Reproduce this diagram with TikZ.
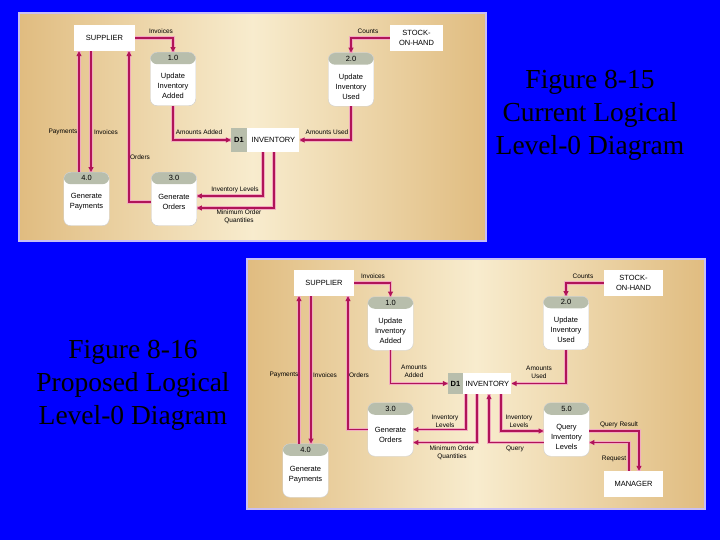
\documentclass[tikz,border=0pt]{standalone}
\usepackage{fontspec}
\setmainfont{Liberation Serif}
\newfontfamily\lsans{Liberation Sans}
\usetikzlibrary{arrows.meta,calc}
\definecolor{bgblue}{RGB}{0,0,255}
\definecolor{lav}{RGB}{200,190,245}
\definecolor{tanE}{RGB}{224,188,128}
\definecolor{cream}{RGB}{248,236,206}
\definecolor{hdr}{RGB}{184,190,172}
\definecolor{lc}{RGB}{176,20,88}
\definecolor{glow}{RGB}{242,170,192}
\newcommand\dfdproc[5]{%
  \node[proc] (#1) at (#2) {};
  \node[pnum] (#1n) at ([yshift=-6pt]#1.north) {#3};
  \node[ptxt] (#1t) at ([yshift=#5]#1.center) {#4};}
\begin{document}
\begin{tikzpicture}[x=1pt,y=-1pt,
  panel/.style={draw=lav, line width=2pt, left color=tanE, right color=tanE, middle color=cream, shading angle=90},
  ent/.style={fill=white, minimum height=26pt, inner sep=0pt, align=center, font=\lsans\fontsize{7.5}{10}\selectfont},
  proc/.style={draw=black!20, fill=white, rounded corners=7pt, minimum width=45.5pt, minimum height=53.5pt, inner sep=0pt,
    path picture={\fill[hdr] (path picture bounding box.north west) rectangle ([yshift=-12pt]path picture bounding box.north east);}},
  pnum/.style={inner sep=0pt, font=\lsans\fontsize{7.5}{9}\selectfont},
  ptxt/.style={inner sep=0pt, align=center, font=\lsans\fontsize{7.5}{10}\selectfont},
  dg/.style={fill=hdr, inner sep=0pt, font=\lsans\bfseries\fontsize{7.5}{9}\selectfont},
  dw/.style={fill=white, inner sep=0pt, font=\lsans\fontsize{7.5}{9}\selectfont},
  lbl/.style={inner sep=0pt, align=center, font=\lsans\fontsize{6.5}{8}\selectfont},
  flow/.style={draw=lc, line width=1.4pt, -{Triangle[length=5pt,width=5pt]},
    preaction={draw=glow, line width=3.6pt, -}},
  title/.style={align=center, font=\fontsize{27.5}{33}\selectfont}]
\fill[bgblue] (0,0) rectangle (720,540);
\path[use as bounding box] (0,0) rectangle (720,540);
% panels
\shade[panel] (19,13) rectangle (486,241);
\draw[lav, line width=2pt] (19,13) rectangle (486,241);
\shade[panel] (247,259) rectangle (705,509);
\draw[lav, line width=2pt] (247,259) rectangle (705,509);
% titles
\node[title] (t1) at (590,115) {Figure 8-15\\Current Logical\\Level-0 Diagram};
\node[title] (t2) at (133,385) {Figure 8-16\\Proposed Logical\\Level-0 Diagram};
% ---------- top diagram ----------
\node[ent, minimum width=61pt] (sup1) at (104.5,38) {SUPPLIER};
\node[ent, minimum width=53pt] (soh1) at (416.5,38) {STOCK-\\ON-HAND};
\dfdproc{p1}{173,79}{1.0}{Update\\Inventory\\Added}{-7pt}
\dfdproc{p2}{351,79.5}{2.0}{Update\\Inventory\\Used}{-7pt}
\dfdproc{p4}{86.5,199}{4.0}{Generate\\Payments}{-3pt}
\dfdproc{p3}{174,199}{3.0}{Generate\\Orders}{-3pt}
\node[dg, minimum width=16pt, minimum height=24pt] (d1g) at (239,140) {D1};
\node[dw, minimum width=52pt, minimum height=24pt, anchor=west] (d1w) at (d1g.east) {INVENTORY};
\coordinate (xa) at (79,0);
\coordinate (xb) at (91,0);
\coordinate (xc) at (129,0);
\coordinate (xd) at (263,0);
\coordinate (xe) at (274,0);
\draw[flow] (sup1.east) -| (p1.north);
\draw[flow] (soh1.west) -| (p2.north);
\draw[flow] (p1.south) |- (d1g.west);
\draw[flow] (p2.south) |- (d1w.east);
\draw[flow] (xa |- p4.north) -- (xa |- sup1.south);
\draw[flow] (xb |- sup1.south) -- (xb |- p4.north);
\draw[flow] ([yshift=-3pt]p3.west) -| (xc |- sup1.south);
\draw[flow] (xd |- d1w.south) |- ([yshift=3pt]p3.east);
\draw[flow] (xe |- d1w.south) |- ([yshift=-9pt]p3.east);
\node[lbl] (a1) at (161,31) {Invoices};
\node[lbl] (a2) at (368,31) {Counts};
\node[lbl] (a3) at (199,132) {Amounts Added};
\node[lbl] (a4) at (327,132) {Amounts Used};
\node[lbl] (a5) at (63,132) {Payments};
\node[lbl] (a6) at (106,132) {Invoices};
\node[lbl] (a7) at (140,157) {Orders};
\node[lbl] (a8) at (235,190) {Inventory Levels};
\node[lbl] (a9) at (239,217) {Minimum Order\\Quantities};
% ---------- bottom diagram ----------
\node[ent, minimum width=60pt] (sup2) at (324,283) {SUPPLIER};
\node[ent, minimum width=59pt] (soh2) at (633.5,283) {STOCK-\\ON-HAND};
\node[ent, minimum width=59pt] (mgr) at (633.5,484) {MANAGER};
\dfdproc{q1}{390.5,323.5}{1.0}{Update\\Inventory\\Added}{-7pt}
\dfdproc{q2}{566,323}{2.0}{Update\\Inventory\\Used}{-7pt}
\dfdproc{q3}{390.5,429.5}{3.0}{Generate\\Orders}{-5pt}
\dfdproc{q4}{305.5,470.5}{4.0}{Generate\\Payments}{-4pt}
\dfdproc{q5}{566.5,429.5}{5.0}{Query\\Inventory\\Levels}{-7.5pt}
\node[dg, minimum width=15pt, minimum height=21pt] (e1g) at (455.5,383.5) {D1};
\node[dw, minimum width=48pt, minimum height=21pt, anchor=west] (e1w) at (e1g.east) {INVENTORY};
\coordinate (xf) at (299,0);
\coordinate (xg) at (311,0);
\coordinate (xh) at (348,0);
\coordinate (xi) at (466,0);
\coordinate (xj) at (477,0);
\coordinate (xk) at (489,0);
\coordinate (xl) at (501,0);
\coordinate (xm) at (639,0);
\coordinate (xn) at (629,0);
\draw[flow] (sup2.east) -| (q1.north);
\draw[flow] (soh2.west) -| (q2.north);
\draw[flow] (q1.south) |- (e1g.west);
\draw[flow] (q2.south) |- (e1w.east);
\draw[flow] (xf |- q4.north) -- (xf |- sup2.south);
\draw[flow] (xg |- sup2.south) -- (xg |- q4.north);
\draw[flow] (q3.west) -| (xh |- sup2.south);
\draw[flow] (xi |- e1w.south) |- (q3.east);
\draw[flow] (xj |- e1w.south) |- ([yshift=-13pt]q3.east);
\draw[flow] ([yshift=-13pt]q5.west) -| (xk |- e1w.south);
\draw[flow] (xl |- e1w.south) |- ([yshift=-1.5pt]q5.west);
\draw[flow] ([yshift=-1.5pt]q5.east) -| (xm |- mgr.north);
\draw[flow] (xn |- mgr.north) |- ([yshift=-13pt]q5.east);
\node[lbl] (b1) at (373,276) {Invoices};
\node[lbl] (b2) at (583,276) {Counts};
\node[lbl] (b3) at (284,375) {Payments};
\node[lbl] (b4) at (325,375) {Invoices};
\node[lbl] (b5) at (359,375) {Orders};
\node[lbl] (b6) at (414,371) {Amounts\\Added};
\node[lbl] (b7) at (539,372) {Amounts\\Used};
\node[lbl] (b8) at (445,421) {Inventory\\Levels};
\node[lbl] (b9) at (452,453) {Minimum Order\\Quantities};
\node[lbl] (b10) at (515,449) {Query};
\node[lbl] (b11) at (519,421) {Inventory\\Levels};
\node[lbl] (b12) at (619,425) {Query Result};
\node[lbl] (b13) at (614,459) {Request};
\end{tikzpicture}
\end{document}
